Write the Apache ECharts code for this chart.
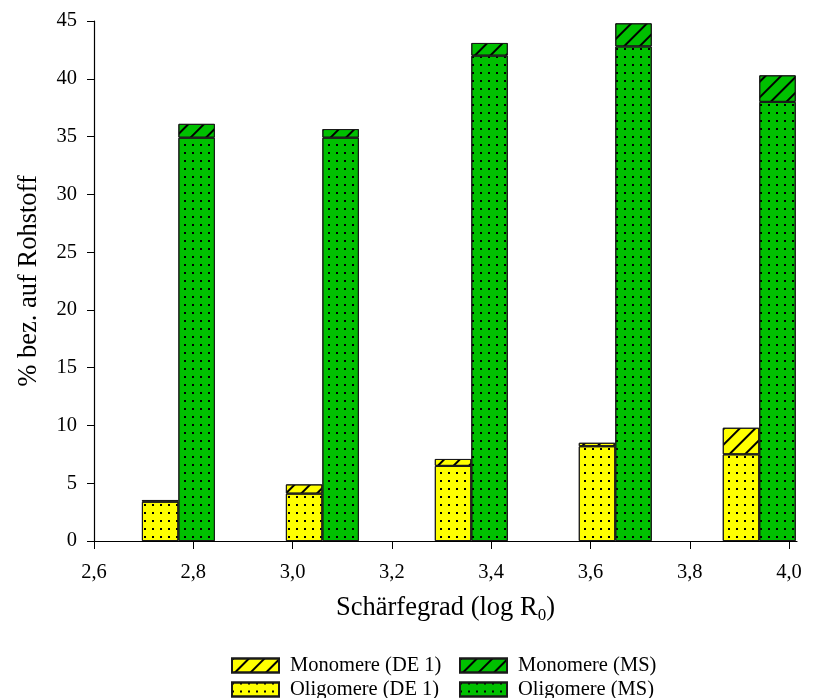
<!DOCTYPE html>
<html>
<head>
<meta charset="utf-8">
<script src="https://cdn.jsdelivr.net/npm/echarts@6/dist/echarts.min.js"></script>
<style>
  html, body { margin: 0; padding: 0; background: #ffffff; }
  #chart { width: 828px; height: 698px; }
</style>
</head>
<body>
<div id="chart"></div>
<script>
// Severity factor (log R0) of each pretreatment run
const severity = [2.77, 3.06, 3.36, 3.65, 3.94];

// Yields in % relative to raw material
const oligomereDE1 = [3.4, 4.1, 6.5, 8.2, 7.5];
const monomereDE1  = [0.15, 0.8, 0.6, 0.3, 2.3];
const oligomereMS  = [34.9, 34.9, 42.0, 42.8, 38.0];
const monomereMS   = [1.2, 0.75, 1.1, 2.0, 2.3];

// Axis tick values
const xTicks = [2.6, 2.8, 3.0, 3.2, 3.4, 3.6, 3.8, 4.0];

const FONT = '"Liberation Serif", "Times New Roman", serif';
const YELLOW = '#FFFF00';
const GREEN = '#00C000';

const dots = {
  symbol: 'rect',
  symbolSize: 1,
  color: '#000000',
  dashArrayX: [2, 6],
  dashArrayY: [2, 5.5],
  rotation: 0
};
const hatch = {
  symbol: 'rect',
  symbolSize: 1,
  color: '#000000',
  dashArrayX: [1, 0],
  dashArrayY: [1.5, 9],
  rotation: -Math.PI / 4
};

// value first, severity second, so the stack runs along the y dimension
function rows(values) {
  return values.map((v, i) => [v, severity[i]]);
}

function barSeries(name, stack, values, color, decal) {
  return {
    name: name,
    type: 'bar',
    stack: stack,
    barWidth: 36.5,
    barGap: '0%',
    encode: { x: 1, y: 0 },
    data: rows(values),
    itemStyle: {
      color: color,
      borderColor: '#1a1a1a',
      borderWidth: 1,
      decal: decal
    },
    emphasis: { disabled: true }
  };
}

const chart = echarts.init(document.getElementById('chart'), null, { renderer: 'canvas' });

const legendCommon = {
  orient: 'vertical',
  icon: 'rect',
  padding: 0,
  height: 80,
  itemWidth: 47,
  itemHeight: 14,
  itemGap: 3,
  textStyle: { fontFamily: FONT, fontSize: 20.5, color: '#000', padding: [0, 0, 0, 6] },
  selectedMode: false
};

chart.setOption({
  animation: false,
  backgroundColor: '#ffffff',
  grid: { left: 94, right: 31, top: 21, bottom: 157, containLabel: false },
  legend: [
    Object.assign({}, legendCommon, {
      left: 231, top: 655,
      data: ['Monomere (DE 1)', 'Oligomere (DE 1)']
    }),
    Object.assign({}, legendCommon, {
      left: 459, top: 655,
      data: ['Monomere (MS)', 'Oligomere (MS)']
    })
  ],
  xAxis: {
    type: 'value',
    min: 2.6,
    max: 4.016,
    name: '{t|Schärfegrad (log R}{s|0}{t|)}',
    nameLocation: 'middle',
    nameGap: 51,
    nameTextStyle: {
      rich: {
        t: { fontFamily: FONT, fontSize: 26.5, color: '#000', lineHeight: 32, verticalAlign: 'middle' },
        s: { fontFamily: FONT, fontSize: 17, color: '#000', lineHeight: 32, verticalAlign: 'bottom' }
      }
    },
    axisLine: { show: true, onZero: false, lineStyle: { color: '#000', width: 1.2 } },
    axisTick: { show: true, inside: false, length: 8, customValues: xTicks, lineStyle: { color: '#000' } },
    axisLabel: {
      customValues: xTicks,
      margin: 21,
      fontFamily: FONT, fontSize: 20.5, color: '#000',
      formatter: v => v.toFixed(1).replace('.', ',')
    },
    splitLine: { show: false }
  },
  yAxis: {
    type: 'value',
    min: 0,
    max: 45,
    interval: 5,
    name: '% bez. auf Rohstoff',
    nameLocation: 'middle',
    nameGap: 51,
    nameTextStyle: { fontFamily: FONT, fontSize: 26.5, color: '#000' },
    axisLine: { show: true, lineStyle: { color: '#000', width: 1.2 } },
    axisTick: { show: true, inside: false, length: 7, lineStyle: { color: '#000' } },
    axisLabel: { margin: 17, fontFamily: FONT, fontSize: 20.5, color: '#000' },
    splitLine: { show: false }
  },
  series: [
    barSeries('Oligomere (DE 1)', 'DE1', oligomereDE1, YELLOW, dots),
    barSeries('Monomere (DE 1)', 'DE1', monomereDE1, YELLOW, hatch),
    barSeries('Oligomere (MS)', 'MS', oligomereMS, GREEN, dots),
    barSeries('Monomere (MS)', 'MS', monomereMS, GREEN, hatch)
  ]
});
</script>
</body>
</html>
